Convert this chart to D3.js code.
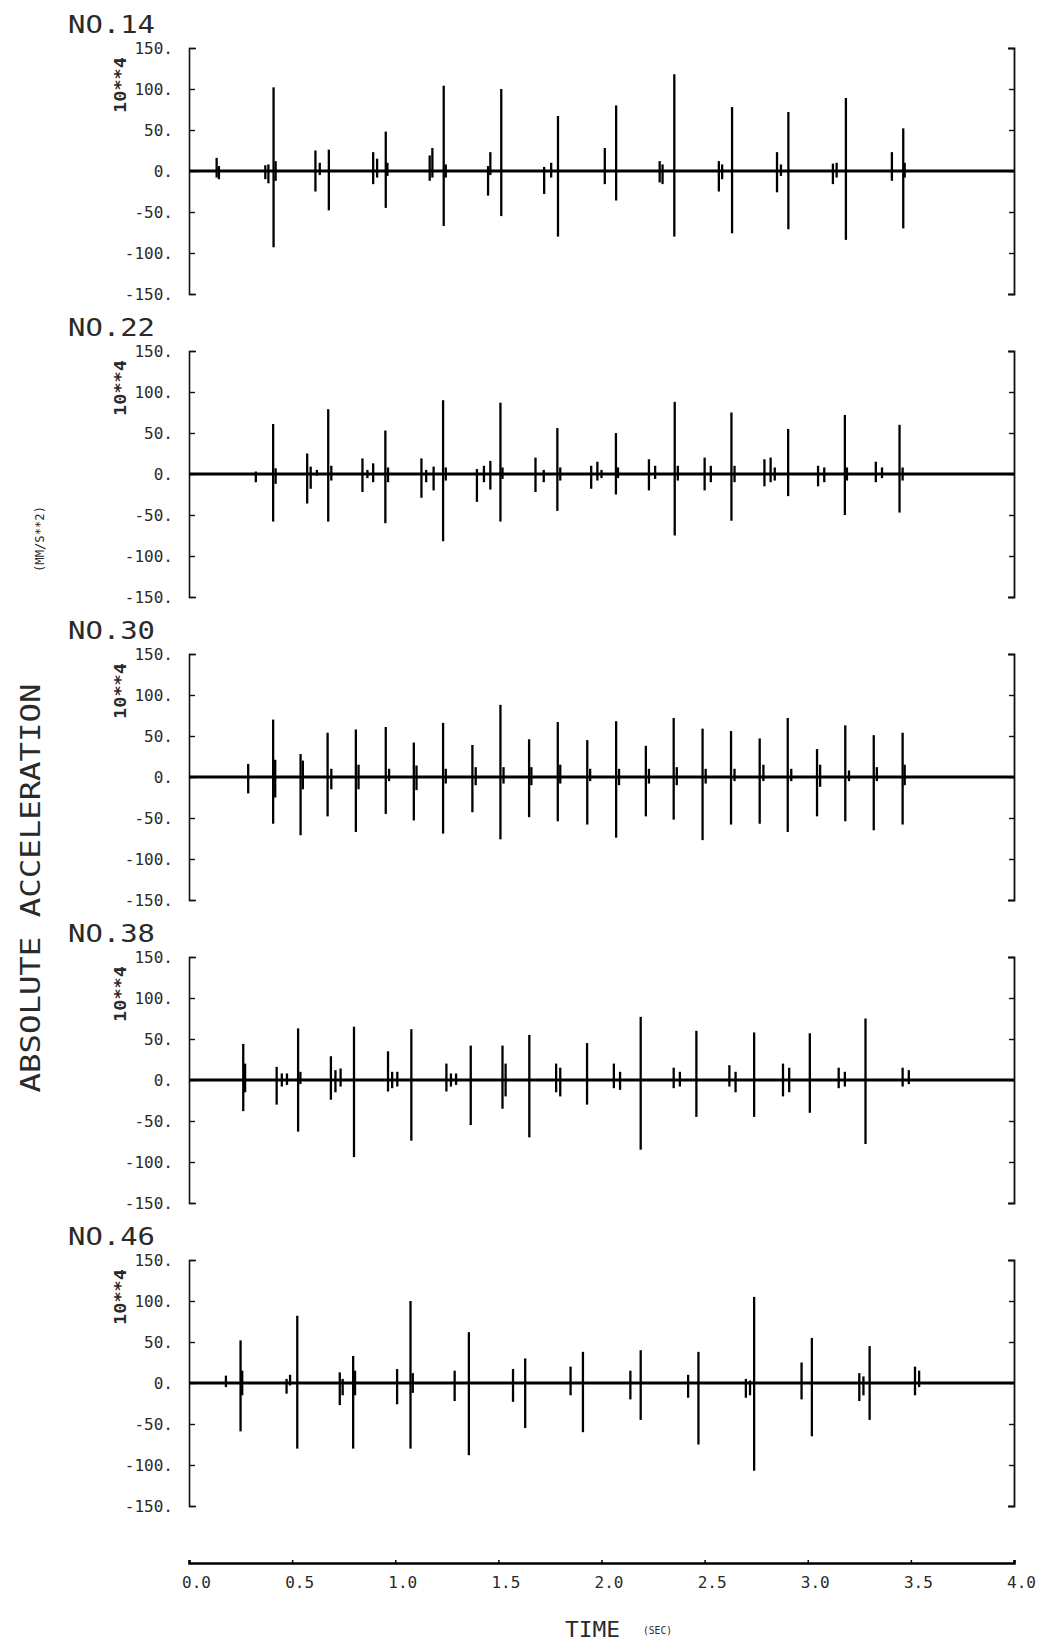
<!DOCTYPE html>
<html>
<head>
<meta charset="utf-8">
<script src="https://cdn.jsdelivr.net/npm/d3@7.9.0/dist/d3.min.js"></script>
<style>
  body { margin: 0; background: #fff; }
  svg { display: block; }
  text { font-family: "DejaVu Sans Mono", monospace; fill: #2a2a2a; }
</style>
</head>
<body>
<svg id="chart" width="1046" height="1646"></svg>
<script>
// panel names, ticks
const panelNames = ['NO.14', 'NO.22', 'NO.30', 'NO.38', 'NO.46'];
const yTicks = [150, 100, 50, 0, -50, -100, -150];
const timeTicks = [0, 0.5, 1, 1.5, 2, 2.5, 3, 3.5, 4];

// each spike: [time (sec), max, min]  (units 10**4 mm/s**2)
const spikes14 = [
  [0.134, 16, -8], [0.145, 6, -10], [0.37, 7, -10], [0.385, 8, -15],
  [0.41, 102, -93], [0.42, 12, -12], [0.613, 25, -25], [0.634, 10, -5],
  [0.678, 26, -48], [0.893, 23, -16], [0.912, 15, -8], [0.954, 48, -45],
  [0.962, 10, -6], [1.167, 19, -12], [1.18, 28, -8], [1.235, 104, -67],
  [1.245, 8, -8], [1.45, 6, -30], [1.461, 23, -5], [1.514, 100, -55],
  [1.722, 5, -28], [1.756, 10, -8], [1.789, 67, -80], [2.016, 28, -16],
  [2.071, 80, -36], [2.282, 12, -14], [2.296, 8, -16], [2.353, 118, -80],
  [2.569, 12, -25], [2.585, 8, -10], [2.633, 78, -76], [2.851, 23, -26],
  [2.87, 8, -6], [2.906, 72, -71], [3.122, 9, -16], [3.14, 10, -8],
  [3.185, 89, -84], [3.408, 23, -12], [3.463, 52, -70], [3.47, 10, -8]
];
const spikes22 = [
  [0.324, 3, -10], [0.408, 61, -58], [0.42, 7, -12], [0.573, 25, -36],
  [0.59, 9, -18], [0.62, 5, -2], [0.675, 79, -58], [0.69, 10, -8],
  [0.841, 19, -22], [0.865, 5, -5], [0.893, 13, -10], [0.952, 53, -60],
  [0.965, 8, -10], [1.127, 19, -29], [1.15, 5, -10], [1.186, 9, -20],
  [1.232, 90, -82], [1.245, 8, -8], [1.396, 6, -34], [1.43, 10, -10],
  [1.461, 16, -19], [1.51, 87, -58], [1.52, 8, -6], [1.68, 20, -22],
  [1.72, 5, -10], [1.786, 56, -45], [1.8, 8, -8], [1.95, 10, -18],
  [1.98, 15, -8], [2.0, 5, -5], [2.07, 50, -25], [2.08, 8, -5],
  [2.23, 18, -20], [2.26, 10, -6], [2.355, 88, -75], [2.37, 10, -8],
  [2.5, 20, -20], [2.53, 10, -10], [2.63, 75, -57], [2.645, 10, -10],
  [2.79, 18, -15], [2.82, 20, -10], [2.84, 8, -8], [2.905, 55, -27],
  [3.05, 10, -15], [3.08, 8, -10], [3.18, 72, -50], [3.19, 8, -8],
  [3.33, 15, -10], [3.36, 8, -5], [3.445, 60, -47], [3.46, 8, -8]
];
const spikes30 = [
  [0.287, 16, -20], [0.408, 70, -57], [0.418, 21, -25], [0.541, 28, -71],
  [0.552, 20, -15], [0.672, 54, -48], [0.69, 10, -15], [0.809, 58, -67],
  [0.822, 15, -15], [0.954, 61, -45], [0.97, 10, -5], [1.09, 42, -53],
  [1.103, 14, -16], [1.232, 66, -69], [1.245, 10, -8], [1.374, 39, -43],
  [1.39, 12, -10], [1.51, 88, -76], [1.525, 12, -8], [1.649, 46, -49],
  [1.66, 12, -10], [1.788, 67, -54], [1.8, 15, -8], [1.931, 45, -58],
  [1.945, 10, -5], [2.071, 68, -74], [2.085, 10, -10], [2.215, 38, -48],
  [2.23, 10, -8], [2.35, 72, -52], [2.365, 12, -10], [2.49, 59, -77],
  [2.505, 10, -8], [2.628, 56, -58], [2.645, 10, -5], [2.767, 47, -57],
  [2.785, 15, -5], [2.903, 72, -67], [2.92, 10, -5], [3.045, 34, -48],
  [3.06, 15, -12], [3.182, 63, -54], [3.2, 8, -5], [3.32, 51, -65],
  [3.335, 12, -5], [3.46, 54, -58], [3.47, 15, -10]
];
const spikes38 = [
  [0.263, 44, -38], [0.272, 20, -15], [0.425, 16, -30], [0.45, 8, -8],
  [0.475, 8, -6], [0.529, 63, -63], [0.54, 10, -5], [0.688, 29, -24],
  [0.71, 12, -15], [0.735, 14, -8], [0.8, 65, -94], [0.965, 35, -14],
  [0.985, 10, -10], [1.01, 10, -8], [1.078, 62, -74], [1.248, 20, -14],
  [1.27, 8, -8], [1.295, 8, -6], [1.366, 42, -55], [1.52, 42, -35],
  [1.535, 20, -20], [1.65, 55, -70], [1.78, 20, -15], [1.8, 15, -20],
  [1.93, 45, -30], [2.06, 20, -10], [2.09, 10, -12], [2.19, 77, -85],
  [2.35, 15, -10], [2.38, 10, -8], [2.46, 60, -45], [2.62, 18, -8],
  [2.65, 10, -15], [2.74, 58, -45], [2.88, 20, -20], [2.91, 15, -15],
  [3.01, 57, -40], [3.15, 15, -10], [3.18, 10, -8], [3.28, 75, -78],
  [3.46, 15, -8], [3.49, 12, -5]
];
const spikes46 = [
  [0.179, 9, -5], [0.25, 52, -59], [0.258, 15, -15], [0.473, 5, -13],
  [0.49, 10, -3], [0.525, 82, -80], [0.731, 13, -27], [0.745, 5, -15],
  [0.796, 33, -80], [0.805, 15, -15], [1.009, 17, -26], [1.074, 100, -80],
  [1.085, 12, -12], [1.288, 15, -22], [1.357, 62, -88], [1.571, 17, -23],
  [1.63, 30, -55], [1.85, 20, -15], [1.91, 38, -60], [2.14, 15, -20],
  [2.19, 40, -45], [2.42, 10, -18], [2.47, 38, -75], [2.7, 5, -18],
  [2.72, 3, -15], [2.74, 105, -107], [2.97, 25, -20], [3.02, 55, -65],
  [3.25, 12, -22], [3.27, 8, -15], [3.3, 45, -45], [3.52, 20, -15],
  [3.54, 15, -5]
];
const panelSpikes = [spikes14, spikes22, spikes30, spikes38, spikes46];

const svg = d3.select('#chart');
svg.append('rect').attr('width', 1046).attr('height', 1646).attr('fill', '#fff');

const x = d3.scaleLinear().domain([0, 4]).range([189, 1014]);
const panelH = 246;

panelNames.forEach((name, i) => {
  const top = 48 + i * 303;
  const y = d3.scaleLinear().domain([-150, 150]).range([top + panelH, top]);
  const g = svg.append('g');

  // left axis with labels, ticks pointing inward
  const left = g.append('g')
    .attr('transform', `translate(${x(0)},0)`)
    .call(d3.axisLeft(y).tickValues(yTicks).tickSize(-6).tickSizeOuter(-7)
      .tickPadding(16).tickFormat(d => d + '.'));
  left.select('.domain').attr('stroke', '#111').attr('stroke-width', 1.6);
  left.selectAll('.tick line').attr('stroke', '#111').attr('stroke-width', 1.4);
  left.selectAll('.tick text').attr('font-size', 16).attr('fill', '#333')
    .attr('font-family', '"DejaVu Sans Mono", monospace');

  // right bracket
  const right = g.append('g')
    .attr('transform', `translate(${x(4)},0)`)
    .call(d3.axisRight(y).tickValues(yTicks).tickSize(-5).tickSizeOuter(-6).tickFormat(''));
  right.select('.domain').attr('stroke', '#111').attr('stroke-width', 1.8);
  right.selectAll('.tick line').attr('stroke', '#111').attr('stroke-width', 1.4);

  // zero line
  g.append('line')
    .attr('x1', x(0)).attr('x2', x(4))
    .attr('y1', y(0)).attr('y2', y(0))
    .attr('stroke', '#000').attr('stroke-width', 3);

  // spikes
  g.selectAll('line.spike')
    .data(panelSpikes[i])
    .join('line')
    .attr('class', 'spike')
    .attr('x1', d => x(d[0])).attr('x2', d => x(d[0]))
    .attr('y1', d => y(d[1])).attr('y2', d => y(d[2]))
    .attr('stroke', '#000').attr('stroke-width', 2.3);

  // panel label
  g.append('text')
    .attr('x', 68).attr('y', top - 15)
    .attr('font-size', 24)
    .attr('textLength', 87).attr('lengthAdjust', 'spacingAndGlyphs')
    .text(name);

  // scale factor label
  g.append('text')
    .attr('transform', `translate(126,${top + 37}) rotate(-90)`)
    .attr('text-anchor', 'middle')
    .attr('font-size', 15).attr('font-weight', 'bold')
    .attr('textLength', 56).attr('lengthAdjust', 'spacingAndGlyphs')
    .text('10**4');
});

// time axis
const xAxis = svg.append('g')
  .attr('transform', 'translate(0,1563)')
  .call(d3.axisBottom(x).tickValues(timeTicks).tickSize(-3).tickSizeOuter(-3)
    .tickPadding(14).tickFormat(d3.format('.1f')));
xAxis.select('.domain').attr('stroke', '#000').attr('stroke-width', 2.6);
xAxis.selectAll('.tick line').attr('stroke', '#000').attr('stroke-width', 1.5);
xAxis.selectAll('.tick text').attr('font-size', 16).attr('dx', 7).attr('fill', '#333')
  .attr('font-family', '"DejaVu Sans Mono", monospace');

// titles
svg.append('text')
  .attr('transform', 'translate(40,888) rotate(-90)')
  .attr('text-anchor', 'middle')
  .attr('font-size', 26)
  .attr('textLength', 409).attr('lengthAdjust', 'spacingAndGlyphs')
  .text('ABSOLUTE ACCELERATION');

svg.append('text')
  .attr('transform', 'translate(44,539) rotate(-90)')
  .attr('text-anchor', 'middle')
  .attr('font-size', 12)
  .attr('textLength', 66).attr('lengthAdjust', 'spacingAndGlyphs')
  .text('(MM/S**2)');

svg.append('text')
  .attr('x', 565).attr('y', 1637)
  .attr('font-size', 22)
  .attr('textLength', 55).attr('lengthAdjust', 'spacingAndGlyphs')
  .text('TIME');

svg.append('text')
  .attr('x', 643).attr('y', 1634)
  .attr('font-size', 11)
  .attr('textLength', 29).attr('lengthAdjust', 'spacingAndGlyphs')
  .text('(SEC)');
</script>
</body>
</html>
